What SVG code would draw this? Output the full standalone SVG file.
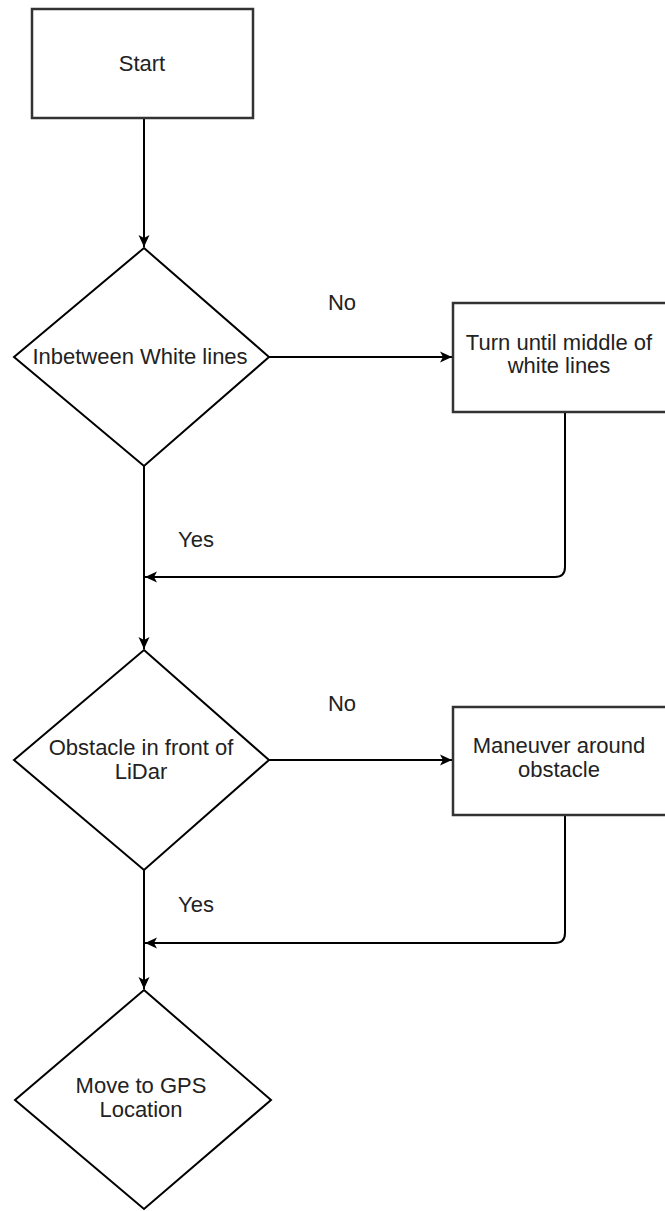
<svg xmlns="http://www.w3.org/2000/svg" width="665" height="1211" viewBox="0 0 665 1211">
  <defs>
    <style>
      .shape { fill: #ffffff; stroke: #000000; stroke-width: 2; }
      .box { fill: #ffffff; stroke: #333333; stroke-width: 2.5; }
      .edge { fill: none; stroke: #000000; stroke-width: 2; }
      .lbl { font-family: "Liberation Sans", Arial, sans-serif; font-size: 22px; fill: #222222; text-anchor: middle; }
    </style>
    <marker id="arrow" markerUnits="userSpaceOnUse" markerWidth="14" markerHeight="14" viewBox="0 0 14 14" refX="13" refY="7" orient="auto">
      <path d="M1,1.5 L13,7 L1,12.5 L4,7 Z" fill="#000000"/>
    </marker>
  </defs>
  <rect width="665" height="1211" fill="#ffffff"/>

  <g id="connectors">
    <path class="edge" d="M144,118 L144,247" marker-end="url(#arrow)"/>
    <path class="edge" d="M269,357 L452,357" marker-end="url(#arrow)"/>
    <path class="edge" d="M565,412 L565,567 Q565,577 555,577 L145,577" marker-end="url(#arrow)"/>
    <path class="edge" d="M144,466 L144,649" marker-end="url(#arrow)"/>
    <path class="edge" d="M269,760 L452,760" marker-end="url(#arrow)"/>
    <path class="edge" d="M565,815 L565,933 Q565,943 555,943 L145,943" marker-end="url(#arrow)"/>
    <path class="edge" d="M144,870 L144,989" marker-end="url(#arrow)"/>
    <text class="lbl" x="342" y="310">No</text>
    <text class="lbl" x="196" y="547">Yes</text>
    <text class="lbl" x="342" y="711">No</text>
    <text class="lbl" x="196" y="912">Yes</text>
  </g>

  <g id="start">
    <rect class="box" x="32" y="9" width="221" height="109"/>
    <text class="lbl" x="142" y="71">Start</text>
  </g>

  <g id="white-lines-decision">
    <polygon class="shape" points="144,248 269,357 144,466 14,357"/>
    <text class="lbl" x="140" y="364">Inbetween White lines</text>
  </g>

  <g id="turn">
    <rect class="box" x="453" y="303" width="224" height="109"/>
    <text class="lbl" x="559" y="350">Turn until middle of</text>
    <text class="lbl" x="559" y="373">white lines</text>
  </g>

  <g id="obstacle-decision">
    <polygon class="shape" points="144,650 269,760 144,870 14,760"/>
    <text class="lbl" x="141" y="755">Obstacle in front of</text>
    <text class="lbl" x="141" y="779">LiDar</text>
  </g>

  <g id="maneuver">
    <rect class="box" x="453" y="707" width="224" height="108"/>
    <text class="lbl" x="559" y="753">Maneuver around</text>
    <text class="lbl" x="559" y="777">obstacle</text>
  </g>

  <g id="gps">
    <polygon class="shape" points="144,990 271,1100 144,1209 15,1100"/>
    <text class="lbl" x="141" y="1093">Move to GPS</text>
    <text class="lbl" x="141" y="1117">Location</text>
  </g>
</svg>
